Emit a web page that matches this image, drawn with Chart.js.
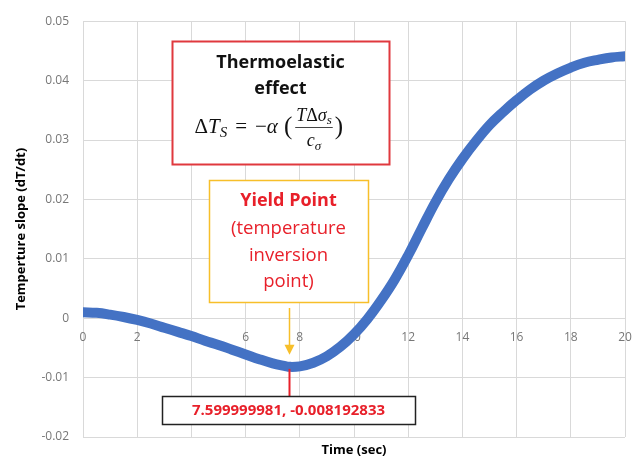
<!DOCTYPE html>
<html>
<head>
<meta charset="utf-8">
<script src="https://cdn.jsdelivr.net/npm/chart.js@4.4.1/dist/chart.umd.min.js"></script>
<style>
  html, body { margin: 0; padding: 0; background: #fff; }
</style>
</head>
<body>
<canvas id="slopeChart" width="638" height="459"></canvas>
<script>
// values
const timeSec = [0, 0.5, 1, 1.5, 2, 2.5, 3, 3.5, 4, 4.5, 5, 5.5, 6, 6.5, 7, 7.5, 7.6, 8, 8.5, 9, 9.5, 10,
  10.5, 11, 11.5, 12, 12.5, 13, 13.5, 14, 14.5, 15, 15.5, 16, 16.5, 17, 17.5, 18, 18.5, 19, 19.5, 20];
const slope = [0.0010, 0.0009, 0.0006, 0.0002, -0.0003, -0.0009, -0.0016, -0.0023, -0.0030, -0.0038,
  -0.0045, -0.0053, -0.0061, -0.0069, -0.0076, -0.0081, -0.008192833, -0.0081, -0.0075, -0.0064,
  -0.0048, -0.0027, -0.0001, 0.0030, 0.0065, 0.0106, 0.0151, 0.0195, 0.0234, 0.0268, 0.0298, 0.0325,
  0.0347, 0.0367, 0.0385, 0.0400, 0.0412, 0.0422, 0.0430, 0.0435, 0.0439, 0.0441];
const yieldTime = 7.599999981;
const yieldSlope = -0.008192833;

// annotation boxes in data units
const effectBox = { x0: 3.3, x1: 11.3, y0: 0.0466, y1: 0.026 };
const yieldBox = { x0: 4.65, x1: 10.5, y0: 0.0233, y1: 0.0027 };
const valueBox = { x0: 2.9, x1: 12.25, y0: -0.0131, y1: -0.0178 };

const RED = "#e8202a";
const GOLD = "#f7bf2a";
const FONT = '"Open Sans", sans-serif';
const MATH = '"Liberation Serif", serif';

function boxPx(b, x, y) {
  return {
    l: Math.round(x.getPixelForValue(b.x0)),
    r: Math.round(x.getPixelForValue(b.x1)),
    t: Math.round(y.getPixelForValue(b.y0)),
    b: Math.round(y.getPixelForValue(b.y1)),
  };
}

function drawBox(ctx, p, stroke, lw) {
  ctx.fillStyle = "#fff";
  ctx.fillRect(p.l, p.t, p.r - p.l, p.b - p.t);
  ctx.strokeStyle = stroke;
  ctx.lineWidth = lw;
  ctx.strokeRect(p.l + 0.5, p.t + 0.5, p.r - p.l, p.b - p.t);
}

// draw a run of text pieces left to right, returns end x
function drawRun(ctx, pieces, x0, base) {
  let cx = x0;
  pieces.forEach((pc) => {
    ctx.font = pc.f;
    ctx.fillText(pc.t, cx, base + (pc.dy || 0));
    cx += ctx.measureText(pc.t).width + (pc.gap || 0);
  });
  return cx;
}

function runWidth(ctx, pieces) {
  let w = 0;
  pieces.forEach((pc) => {
    ctx.font = pc.f;
    w += ctx.measureText(pc.t).width + (pc.gap || 0);
  });
  return w;
}

const annotate = {
  id: "annotate",
  afterDraw(chart) {
    const { ctx, scales: { x, y }, chartArea } = chart;
    ctx.save();

    // x axis title
    ctx.fillStyle = "#000";
    ctx.textAlign = "center";
    ctx.textBaseline = "middle";
    ctx.font = "bold 13px " + FONT;
    ctx.fillText("Time (sec)", (chartArea.left + chartArea.right) / 2, 450);

    // thermoelastic box
    const e = boxPx(effectBox, x, y);
    drawBox(ctx, e, "#e0393e", 2);
    const ecx = (e.l + e.r) / 2;
    ctx.fillStyle = "#111";
    ctx.font = "bold 18px " + FONT;
    ctx.fillText("Thermoelastic", ecx, e.t + 22);
    ctx.fillText("effect", ecx, e.t + 48);

    ctx.textAlign = "left";
    ctx.textBaseline = "alphabetic";
    const base = e.t + 92;
    const lhs = [
      { t: "\u0394", f: "21px " + MATH },
      { t: "T", f: "italic 21px " + MATH },
      { t: "S", f: "italic 15px " + MATH, dy: 4, gap: 8 },
      { t: "=", f: "21px " + MATH, gap: 8 },
      { t: "\u2212", f: "21px " + MATH },
      { t: "\u03b1", f: "italic 21px " + MATH, gap: 6 },
    ];
    let cx = drawRun(ctx, lhs, ecx - 86, base);
    ctx.font = "25px " + MATH;
    ctx.fillText("(", cx, base + 1);
    cx += ctx.measureText("(").width + 3;
    const num = [
      { t: "T", f: "italic 18px " + MATH },
      { t: "\u0394", f: "18px " + MATH },
      { t: "\u03c3", f: "italic 18px " + MATH },
      { t: "s", f: "italic 13px " + MATH, dy: 3 },
    ];
    const den = [
      { t: "c", f: "italic 18px " + MATH },
      { t: "\u03c3", f: "italic 13px " + MATH, dy: 4 },
    ];
    const nw = runWidth(ctx, num);
    const dw = runWidth(ctx, den);
    const fw = Math.max(nw, dw) + 2;
    drawRun(ctx, num, cx + (fw - nw) / 2, base - 12);
    drawRun(ctx, den, cx + (fw - dw) / 2, base + 13);
    ctx.strokeStyle = "#444";
    ctx.lineWidth = 1;
    ctx.beginPath();
    ctx.moveTo(cx, base - 5.5);
    ctx.lineTo(cx + fw, base - 5.5);
    ctx.stroke();
    ctx.font = "25px " + MATH;
    ctx.fillText(")", cx + fw + 2, base + 1);

    // yield point box
    const yb = boxPx(yieldBox, x, y);
    drawBox(ctx, yb, GOLD, 1.5);
    const ycx = (yb.l + yb.r) / 2;
    ctx.textAlign = "center";
    ctx.textBaseline = "middle";
    ctx.fillStyle = RED;
    ctx.font = "bold 18px " + FONT;
    ctx.fillText("Yield Point", ycx, yb.t + 21);
    ctx.font = "18.5px " + FONT;
    ctx.fillText("(temperature", ycx, yb.t + 49);
    ctx.fillText("inversion", ycx, yb.t + 76);
    ctx.fillText("point)", ycx, yb.t + 102);

    // arrow down to the minimum
    const mx = Math.round(x.getPixelForValue(yieldTime)) + 0.5;
    const my = y.getPixelForValue(yieldSlope);
    const tip = my - 12;
    ctx.strokeStyle = GOLD;
    ctx.lineWidth = 1.5;
    ctx.beginPath();
    ctx.moveTo(mx, yb.b + 6);
    ctx.lineTo(mx, tip - 8);
    ctx.stroke();
    ctx.fillStyle = GOLD;
    ctx.beginPath();
    ctx.moveTo(mx - 5, tip - 10);
    ctx.lineTo(mx + 5, tip - 10);
    ctx.lineTo(mx, tip);
    ctx.closePath();
    ctx.fill();

    // value callout
    const vb = boxPx(valueBox, x, y);
    ctx.strokeStyle = RED;
    ctx.lineWidth = 2;
    ctx.beginPath();
    ctx.moveTo(mx, my + 2);
    ctx.lineTo(mx, vb.t);
    ctx.stroke();
    drawBox(ctx, vb, "#222", 1.5);
    ctx.fillStyle = RED;
    ctx.font = "bold 15px " + FONT;
    ctx.fillText(yieldTime + ", " + yieldSlope, (vb.l + vb.r) / 2, (vb.t + vb.b) / 2 + 1);

    ctx.restore();
  },
};

new Chart(document.getElementById("slopeChart").getContext("2d"), {
  type: "line",
  data: {
    datasets: [
      {
        data: timeSec.map((t, i) => ({ x: t, y: slope[i] })),
        borderColor: "#4472c4",
        backgroundColor: "#4472c4",
        borderWidth: 10,
        pointRadius: 0,
        tension: 0.4,
        borderCapStyle: "round",
        borderJoinStyle: "round",
      },
    ],
  },
  options: {
    responsive: false,
    animation: false,
    layout: { padding: { left: 13, right: 13, top: 19, bottom: 22 } },
    scales: {
      x: {
        type: "linear",
        min: 0,
        max: 20,
        position: { y: 0 },
        ticks: { stepSize: 2, color: "#777", font: { family: FONT, size: 12 }, padding: 12 },
        grid: { color: "#d9d9d9", drawTicks: false },
        border: { display: false },
        afterFit: (s) => {
          s.paddingLeft = 0;
          s.paddingRight = 0;
        },
      },
      y: {
        min: -0.02,
        max: 0.05,
        ticks: {
          stepSize: 0.01,
          color: "#777",
          font: { family: FONT, size: 12 },
          padding: 14,
          callback: (v) => (Math.abs(v) < 1e-9 ? "0" : v.toFixed(2)),
        },
        grid: { color: "#d9d9d9", drawTicks: false },
        border: { display: false },
        title: {
          display: true,
          text: "Temperture slope (dT/dt)",
          color: "#000",
          font: { family: FONT, size: 13, weight: "bold" },
          padding: 0,
        },
        afterFit: (s) => {
          s.width = 70;
        },
      },
    },
    plugins: {
      legend: { display: false },
      tooltip: { enabled: false },
    },
  },
  plugins: [annotate],
});
</script>
</body>
</html>
